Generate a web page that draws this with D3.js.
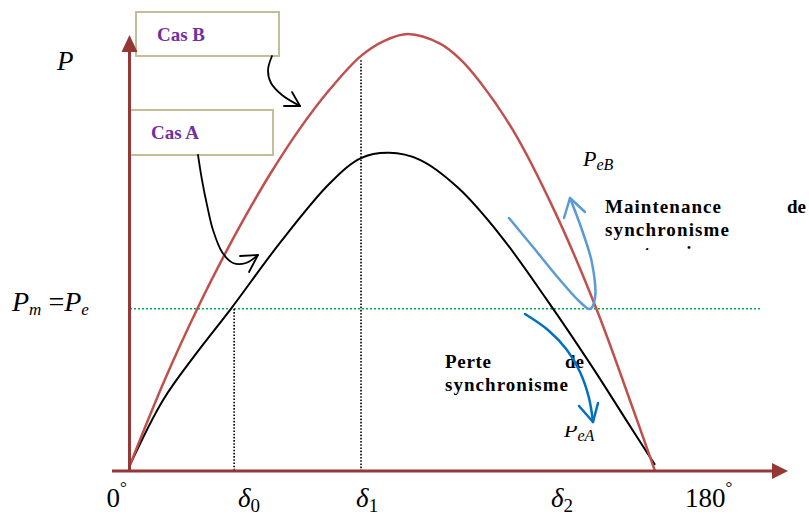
<!DOCTYPE html>
<html><head><meta charset="utf-8">
<script src="https://cdn.jsdelivr.net/npm/d3@7"></script>
<style>body{margin:0;background:#fff} svg{display:block}</style>
</head><body><svg id="chart" width="809" height="517"></svg>
<script>
// Power–angle curves: load angle δ in degrees, power relative to the peak of case B
const caseBAngle = [0, 12.0, 23.7, 33.6, 39.4, 48.0, 58.3, 68.6, 79.2, 87.4, 95.3, 106.3, 113.1, 120.0, 131.3, 145.7, 160.1, 171.4, 180];
const caseBPower = [0.014, 0.210, 0.380, 0.510, 0.581, 0.679, 0.784, 0.874, 0.950, 0.985, 1.0, 0.978, 0.943, 0.890, 0.780, 0.593, 0.368, 0.162, 0];
const caseAAngle = [0, 11.3, 22.6, 34.6, 51.4, 68.6, 79.2, 88.8, 99.4, 112.5, 126.9, 143.0, 158.7, 169.7, 180];
const caseAPower = [0.014, 0.162, 0.268, 0.371, 0.522, 0.659, 0.716, 0.728, 0.712, 0.648, 0.540, 0.391, 0.236, 0.121, 0.014];

// Mechanical power level and the marked angles
const mechPower = 0.371;
const delta0 = 35.7;
const delta1 = 79.2;
const delta1Top = 0.94;

// Axis labels along δ (positions in degrees)
const tickMain = ["0", "δ", "δ", "δ", "180"];
const tickSub = ["", "0", "1", "2", ""];
const tickSup = ["°", "", "", "", "°"];
const tickAt = [-4.6, 40.8, 81.3, 148.1, 198.4];

const svg = d3.select("#chart");
const x = d3.scaleLinear().domain([0, 180]).range([130, 655]);
const y = d3.scaleLinear().domain([0, 1]).range([471, 34]);

const axisColor = "#953735";
const serif = "'Liberation Serif', 'DejaVu Serif', serif";

// annotation boxes (drawn first, axes overlap their edges)
const boxes = [
  {x: 136, y: 12, w: 143, h: 44, label: "Cas B", tx: 157, ty: 41},
  {x: 130, y: 110, w: 143, h: 45, label: "Cas A", tx: 151, ty: 139}
];
boxes.forEach(b => {
  svg.append("rect").attr("x", b.x).attr("y", b.y).attr("width", b.w).attr("height", b.h)
    .attr("fill", "#fff").attr("stroke", "#C4BD97").attr("stroke-width", 2);
  svg.append("text").attr("x", b.tx).attr("y", b.ty).text(b.label)
    .attr("font-family", serif).attr("font-weight", "bold").attr("font-size", 19)
    .attr("fill", "#7030A0");
});

// guide lines
svg.append("line")
  .attr("x1", x(0)).attr("x2", 760).attr("y1", y(mechPower)).attr("y2", y(mechPower))
  .attr("stroke", "#00B050").attr("stroke-width", 1.5).attr("stroke-dasharray", "2,2");
svg.append("line")
  .attr("x1", x(delta0)).attr("x2", x(delta0)).attr("y1", y(mechPower)).attr("y2", y(0))
  .attr("stroke", "#000").attr("stroke-width", 1.6).attr("stroke-dasharray", "1.6,1.6");
svg.append("line")
  .attr("x1", x(delta1)).attr("x2", x(delta1)).attr("y1", y(delta1Top)).attr("y2", y(0))
  .attr("stroke", "#000").attr("stroke-width", 1.6).attr("stroke-dasharray", "1.6,1.6");

// curves
const curve = d3.line().x(d => x(d[0])).y(d => y(d[1])).curve(d3.curveCatmullRom.alpha(0.5));
svg.append("path").attr("d", curve(d3.zip(caseAAngle, caseAPower)))
  .attr("fill", "none").attr("stroke", "#000").attr("stroke-width", 2);
svg.append("path").attr("d", curve(d3.zip(caseBAngle, caseBPower)))
  .attr("fill", "none").attr("stroke", "#C0504D").attr("stroke-width", 2.5);

// axes with arrow heads
const y0 = y(0);
svg.append("line").attr("x1", 112).attr("x2", 775).attr("y1", y0).attr("y2", y0)
  .attr("stroke", axisColor).attr("stroke-width", 3);
svg.append("path").attr("d", `M788,${y0} L772,${y0 - 8} L772,${y0 + 8} Z`).attr("fill", axisColor);
svg.append("line").attr("x1", x(0) - 0.5).attr("x2", x(0) - 0.5).attr("y1", y0 + 1).attr("y2", 48)
  .attr("stroke", axisColor).attr("stroke-width", 3);
svg.append("path").attr("d", `M${x(0) - 0.5},35 L${x(0) - 8.5},52 L${x(0) + 7.5},52 Z`).attr("fill", axisColor);

// tick labels
const tl = svg.selectAll("text.tick").data(tickMain).join("text").attr("class", "tick")
  .attr("x", (d, i) => x(tickAt[i])).attr("y", 507).attr("text-anchor", "middle")
  .attr("font-family", serif).attr("font-size", 27).attr("fill", "#000");
tl.append("tspan").text(d => d).attr("font-style", (d, i) => tickSub[i] ? "italic" : "normal");
tl.append("tspan").text((d, i) => tickSub[i]).attr("font-size", 19).attr("dy", 5);
tl.append("tspan").text((d, i) => tickSup[i]).attr("font-size", 17).attr("dy", -14);

// axis titles
svg.append("text").attr("x", 57).attr("y", 70).text("P")
  .attr("font-family", serif).attr("font-style", "italic").attr("font-size", 27);
const pm = svg.append("text").attr("x", 12).attr("y", 311)
  .attr("font-family", serif).attr("font-style", "italic").attr("font-size", 28);
pm.append("tspan").text("P");
pm.append("tspan").text("m").attr("font-size", 17).attr("dy", 4);
pm.append("tspan").text(" =").attr("font-style", "normal").attr("dy", -4);
pm.append("tspan").text("P");
pm.append("tspan").text("e").attr("font-size", 17).attr("dy", 4);

// curve names
function pLabel(px, py, sub) {
  const t = svg.append("text").attr("x", px).attr("y", py)
    .attr("font-family", serif).attr("font-style", "italic").attr("font-size", 22);
  t.append("tspan").text("P");
  t.append("tspan").text(sub).attr("font-size", 16).attr("dy", 4);
  return t;
}
pLabel(583, 166, "eB");
svg.append("clipPath").attr("id", "clipPeA").append("rect")
  .attr("x", 540).attr("y", 426).attr("width", 100).attr("height", 40);
pLabel(564, 437, "eA").attr("clip-path", "url(#clipPeA)");

// explanatory texts
const bold = sel => sel.attr("font-family", serif).attr("font-weight", "bold")
  .attr("font-size", 19).attr("fill", "#000");
bold(svg.append("text").attr("x", 605).attr("y", 213).text("Maintenance")).attr("textLength", 116);
bold(svg.append("text").attr("x", 787).attr("y", 213).text("de"));
bold(svg.append("text").attr("x", 605).attr("y", 236).text("synchronisme")).attr("textLength", 124);
svg.append("clipPath").attr("id", "clipThird").append("rect")
  .attr("x", 600).attr("y", 240).attr("width", 209).attr("height", 10);
bold(svg.append("text").attr("x", 644).attr("y", 259).text("transi")).attr("clip-path", "url(#clipThird)");
bold(svg.append("text").attr("x", 445).attr("y", 368).text("Perte")).attr("textLength", 46);
bold(svg.append("text").attr("x", 565).attr("y", 368).text("de"));
bold(svg.append("text").attr("x", 445).attr("y", 391).text("synchronisme")).attr("textLength", 123);

// annotation arrows
const free = d3.line().curve(d3.curveCatmullRom.alpha(0.5));
function arrow(pts, head, color, width) {
  svg.append("path").attr("d", free(pts)).attr("fill", "none")
    .attr("stroke", color).attr("stroke-width", width).attr("stroke-linecap", "round");
  svg.append("path").attr("d", d3.line()(head)).attr("fill", "none")
    .attr("stroke", color).attr("stroke-width", width)
    .attr("stroke-linecap", "round").attr("stroke-linejoin", "round");
}
arrow([[272, 56], [268, 70], [271, 83], [282, 95], [300, 106]],
      [[284, 106], [300, 106], [292, 92]], "#000", 1.8);
arrow([[198, 155], [202, 180], [207, 205], [213, 230], [222, 252], [233, 263], [246, 263], [258, 255]],
      [[240, 256], [258, 255], [249, 272]], "#000", 1.8);
arrow([[509, 218], [533, 247], [560, 280], [580, 302], [590, 309], [595, 298], [592, 263], [582, 230], [570, 198]],
      [[564, 218], [570, 198], [585, 212]], "#5B9BD5", 2.5);
arrow([[525, 314], [548, 330], [567, 350], [580, 372], [589, 398], [593, 422]],
      [[579, 406], [593, 422], [598, 403]], "#0070C0", 2.5);
</script>
</body></html>
